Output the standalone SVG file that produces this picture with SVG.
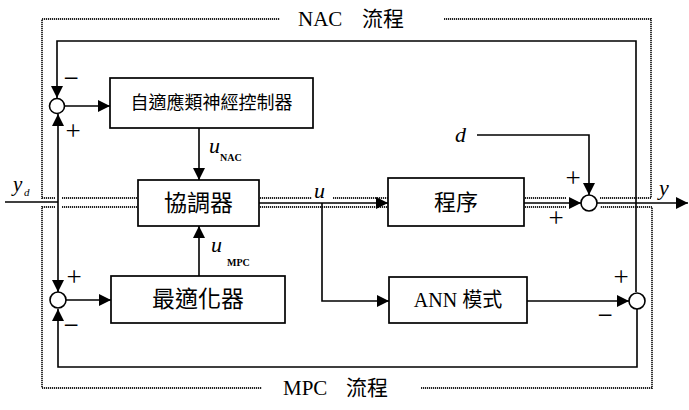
<svg xmlns="http://www.w3.org/2000/svg" width="689" height="410" viewBox="0 0 689 410">
<style>
.box{fill:#fff;stroke:#000;stroke-width:1.7}
.ln{fill:none;stroke:#000;stroke-width:1.6}
.dot{fill:none;stroke:#222;stroke-width:1.8;stroke-dasharray:1.2 0.8}
.sum{fill:#fff;stroke:#000;stroke-width:1.6}
.cj{font-family:"Liberation Serif","Noto Sans CJK TC",serif;fill:#000}
.it{font-family:"Liberation Serif",serif;font-style:italic;fill:#000}
.sub{font-family:"Liberation Serif",serif;font-weight:bold;fill:#000}
.sg{font-family:"Liberation Serif",serif;fill:#000;font-size:27px;text-anchor:middle}
</style>
<defs>
<marker id="ah" viewBox="0 0 10 10" refX="10" refY="5" markerWidth="12" markerHeight="12" markerUnits="userSpaceOnUse" orient="auto">
<path d="M0,0 L10,5 L0,10 z" fill="#000"/>
</marker>
</defs>
<rect width="689" height="410" fill="#fff"/>

<g id="flows">
<path class="dot" d="M55,198 H42 V19 H280"/>
<path class="dot" d="M444,19 H651 V198 H600"/>
<path class="dot" d="M62,198 H137"/>
<path class="dot" d="M260,198 H312 M333,198 H388"/>
<path class="dot" d="M525,198 H566"/>
<path class="dot" d="M55,207 H42 V388 H262"/>
<path class="dot" d="M421,388 H652 V207 H600"/>
<path class="dot" d="M62,207 H137"/>
<path class="dot" d="M260,207 H388"/>
<path class="dot" d="M525,207 H566"/>
<text class="cj" x="298" y="26" font-size="21">NAC</text>
<text class="cj" x="362" y="26" font-size="21">流程</text>
<text class="cj" x="283" y="395" font-size="21">MPC</text>
<text class="cj" x="346" y="395" font-size="21">流程</text>
</g>

<g id="connectors">
<path class="ln" d="M636,292 V41 H57 V98" marker-end="url(#ah)"/>
<path class="ln" d="M58,202 V114" marker-end="url(#ah)"/>
<path class="ln" d="M58,202 V292" marker-end="url(#ah)"/>
<path class="ln" d="M5,202 H58"/>
<path class="ln" d="M637,309 V367 H58 V309" marker-end="url(#ah)"/>
<path class="ln" d="M65,106 H110" marker-end="url(#ah)"/>
<path class="ln" d="M66,300 H111" marker-end="url(#ah)"/>
<path class="ln" d="M199,128 V180" marker-end="url(#ah)"/>
<path class="ln" d="M199,276 V226" marker-end="url(#ah)"/>
<path class="ln" d="M259,203 H388" marker-end="url(#ah)"/>
<path class="ln" d="M322,203 V301 H389" marker-end="url(#ah)"/>
<path class="ln" d="M524,203 H581" marker-end="url(#ah)"/>
<path class="ln" d="M477,135 H589 V195" marker-end="url(#ah)"/>
<path class="ln" d="M597,203 H688" marker-end="url(#ah)"/>
<path class="ln" d="M527,301 H629" marker-end="url(#ah)"/>
</g>

<g id="sum_ul"><circle class="sum" cx="57" cy="106" r="7.5"/></g>
<g id="sum_ll"><circle class="sum" cx="58" cy="300" r="8"/></g>
<g id="sum_ur"><circle class="sum" cx="589" cy="203" r="8"/></g>
<g id="sum_lr"><circle class="sum" cx="637" cy="301" r="8"/></g>

<g id="nac">
<rect class="box" x="110" y="78" width="203" height="50"/>
<text class="cj" x="211.5" y="109" font-size="18" text-anchor="middle">自適應類神經控制器</text>
</g>
<g id="coordinator">
<rect class="box" x="138" y="180" width="121" height="46"/>
<text class="cj" x="198.5" y="211" font-size="23" text-anchor="middle">協調器</text>
</g>
<g id="optimizer">
<rect class="box" x="111" y="276" width="174" height="47"/>
<text class="cj" x="198" y="307" font-size="23" text-anchor="middle">最適化器</text>
</g>
<g id="process">
<rect class="box" x="388" y="178" width="136" height="48"/>
<text class="cj" x="456" y="210" font-size="22" text-anchor="middle">程序</text>
</g>
<g id="ann">
<rect class="box" x="389" y="277" width="138" height="46"/>
<text class="cj" x="458" y="307" font-size="20" text-anchor="middle">ANN 模式</text>
</g>

<g id="labels">
<text class="it" x="13" y="191" font-size="21">y</text>
<text class="it" x="24" y="196" font-size="11">d</text>
<text class="it" x="209" y="153" font-size="22">u</text>
<text class="sub" x="220" y="161" font-size="10">NAC</text>
<text class="it" x="211" y="252" font-size="22">u</text>
<text class="sub" x="227" y="266" font-size="10">MPC</text>
<text class="it" x="314" y="198" font-size="22">u</text>
<text class="it" x="455" y="142" font-size="22">d</text>
<text class="it" x="659" y="195" font-size="22">y</text>
<text class="sg" x="71" y="87">−</text>
<text class="sg" x="73" y="140">+</text>
<text class="sg" x="74" y="286">+</text>
<text class="sg" x="71" y="334">−</text>
<text class="sg" x="573" y="187">+</text>
<text class="sg" x="556" y="227">+</text>
<text class="sg" x="621" y="286">+</text>
<text class="sg" x="605" y="324">−</text>
</g>
</svg>
